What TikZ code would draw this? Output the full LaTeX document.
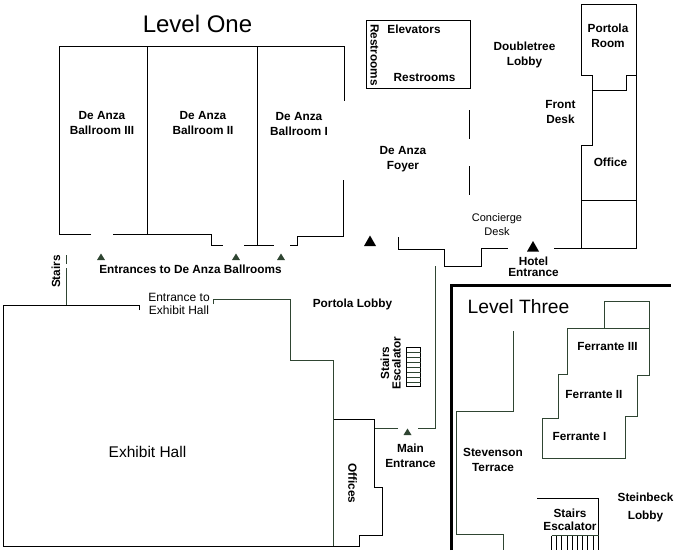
\documentclass[tikz,border=0pt]{standalone}
\usepackage{fontspec}
\setmainfont{Liberation Sans}
\definecolor{wallgreen}{HTML}{2F4532}
\tikzset{
	wall/.style={draw=black,line width=0.9pt},
	greenwall/.style={draw=wallgreen,line width=0.9pt},
	rung/.style={draw=wallgreen,line width=0.7pt},
	roomlabel/.style={align=center,inner sep=0pt,font=\bfseries\fontsize{11.8}{15}\selectfont},
	thinlabel/.style={align=center,inner sep=0pt,font=\fontsize{11}{14.5}\selectfont},
	levellabel/.style={inner sep=0pt,font=\fontsize{24}{26}\selectfont},
	smalltri/.style={fill=wallgreen},
	bigtri/.style={fill=black}
}
\begin{document}
\begin{tikzpicture}[x=1pt,y=-1pt]
		\useasboundingbox (0,0) rectangle (680,550);
		\draw[wall] (91,234.5) -- (59.5,234.5) -- (59.5,46.5) -- (344.5,46.5) -- (344.5,101);
		\draw[wall] (147.5,46.5) -- (147.5,234.5);
		\draw[wall] (257.5,46.5) -- (257.5,245.5);
		\draw[wall] (113,234.5) -- (211.5,234.5) -- (211.5,245.5) -- (223,245.5);
		\draw[wall] (244,245.5) -- (274,245.5);
		\draw[wall] (290,245.5) -- (297.5,245.5) -- (297.5,236) -- (343.5,236) -- (343.5,180);
		\draw[wall] (366.5,20.5) rectangle (470.5,88);
		\draw[wall] (469.5,110) -- (469.5,139);
		\draw[wall] (469.5,166) -- (469.5,195);
		\draw[wall] (398.5,237) -- (398.5,249) -- (444.5,249) -- (444.5,266.5) -- (481.5,266.5) -- (481.5,248.5) -- (508,248.5);
		\draw[wall] (554,248.5) -- (636.5,248.5) -- (636.5,4.5) -- (581.5,4.5) -- (581.5,75.5) -- (592.5,75.5) -- (592.5,145) -- (581.5,145) -- (581.5,248.5);
		\draw[wall] (592.5,90) -- (626,90) -- (626,75.5) -- (636.5,75.5);
		\draw[wall] (581.5,200.5) -- (636.5,200.5);
		\draw[greenwall] (435.5,266) -- (435.5,428.5) -- (418,428.5);
		\draw[greenwall] (398,428.5) -- (374.5,428.5);
		\draw[greenwall] (66.5,255) -- (66.5,264);
		\draw[greenwall] (66.5,268) -- (66.5,305.5);
		\draw[wall] (139,310) -- (139,305.5) -- (3.5,305.5) -- (3.5,546) -- (359.5,546) -- (359.5,535.5) -- (382.5,535.5) -- (382.5,487.5) -- (374.5,487.5) -- (374.5,419.5) -- (333.5,419.5);
		\draw[greenwall] (213.5,304) -- (213.5,299.5) -- (290.5,299.5) -- (290.5,360.5) -- (333.5,360.5) -- (333.5,546);
		\draw[line width=3pt] (451,550) -- (451,285.5) -- (671,285.5);
		\draw[greenwall] (604.5,328.5) -- (604.5,301.5) -- (649.5,301.5) -- (649.5,375.5) -- (637.5,375.5) -- (637.5,416.5) -- (625.5,416.5) -- (625.5,458.5) -- (542.5,458.5) -- (542.5,418.5) -- (558.5,418.5) -- (558.5,374) -- (567.5,374) -- (567.5,328.5) -- (649.5,328.5);
		\draw[greenwall] (513.5,331) -- (513.5,411.5) -- (456.5,411.5) -- (456.5,534) -- (503.5,534) -- (503.5,550);
		\draw[wall] (537,498.5) -- (598.5,498.5) -- (598.5,550);
		\draw[rung] (551.5,535.5) -- (598.5,535.5);
		\foreach \x in {551.5,556.7,...,594}{
			\draw[wall] (\x,535.5) -- (\x,550);
		}
		\draw[wall] (406.5,347.5) rectangle (420.5,386);
		\foreach \y in {352.5,357.5,...,384}{
			\draw[rung] (406.5,\y) -- (420.5,\y);
		}
		\foreach \x/\y in {101/257,236/257,281/257,407.5/432}{
			\fill[smalltri] (\x,\y-3.5) -- (\x+4,\y+3) -- (\x-4,\y+3) -- cycle;
		}
		\foreach \x/\y in {370/241,533/246.5}{
			\fill[bigtri] (\x,\y-5.5) -- (\x+6,\y+5) -- (\x-6,\y+5) -- cycle;
		}
		\node[levellabel] (levelone) at (197.5,24){Level One};
		\node[levellabel,font=\fontsize{19.3}{20}\selectfont] (levelthree) at (518.5,306.5){Level Three};
		\node[levellabel,font=\fontsize{15.5}{18}\selectfont] (exhibithall) at (147.5,452){Exhibit Hall};
		\node[roomlabel] (ballroomc) at (102,123){De Anza\\Ballroom III};
		\node[roomlabel] (ballroomb) at (203,123){De Anza\\Ballroom II};
		\node[roomlabel] (ballrooma) at (299,124){De Anza\\Ballroom I};
		\node[roomlabel] (entrances) at (190.5,269.5){Entrances to De Anza Ballrooms};
		\node[roomlabel] (elevators) at (414,29.5){Elevators};
		\node[roomlabel] (restroomsa) at (424.5,77.5){Restrooms};
		\node[roomlabel,rotate=-90] (restroomsb) at (374.5,55){Restrooms};
		\node[roomlabel] (doubletree) at (524.5,54.5){Doubletree\\Lobby};
		\node[roomlabel] (portola) at (608,36){Portola\\Room};
		\node[roomlabel] (frontdesk) at (560.5,112){Front\\Desk};
		\node[roomlabel] (office) at (610.5,162.5){Office};
		\node[roomlabel] (foyer) at (403,159.5){De Anza\\Foyer};
		\node[thinlabel] (concierge) at (497,224.5){Concierge\\Desk};
		\node[roomlabel,font=\bfseries\fontsize{11.8}{11.5}\selectfont] (hotel) at (533.5,267){Hotel\\Entrance};
		\node[roomlabel,rotate=90] (stairsa) at (56,271.5){Stairs};
		\node[thinlabel,font=\fontsize{12}{13.5}\selectfont] (entrancehall) at (179,304){Entrance to\\Exhibit Hall};
		\node[roomlabel] (portolalobby) at (352.5,304.5){Portola Lobby};
		\node[roomlabel,rotate=90] (stairsb) at (385,363){Stairs};
		\node[roomlabel,rotate=90] (escalatorb) at (396.5,363){Escalator};
		\node[roomlabel] (mainentrance) at (410.5,456){Main\\Entrance};
		\node[roomlabel,rotate=-90] (offices) at (352.5,483.5){Offices};
		\node[roomlabel] (ferrantec) at (607.5,346.5){Ferrante III};
		\node[roomlabel] (ferranteb) at (594,394.5){Ferrante II};
		\node[roomlabel] (ferrantea) at (579.5,436){Ferrante I};
		\node[roomlabel] (stevenson) at (493,459.5){Stevenson\\Terrace};
		\node[roomlabel,font=\bfseries\fontsize{11.8}{12.5}\selectfont] (stairsc) at (570,520){Stairs\\Escalator};
		\node[roomlabel,font=\bfseries\fontsize{11.8}{17.5}\selectfont] (steinbeck) at (645.5,507.5){Steinbeck\\Lobby};
\end{tikzpicture}
\end{document}
